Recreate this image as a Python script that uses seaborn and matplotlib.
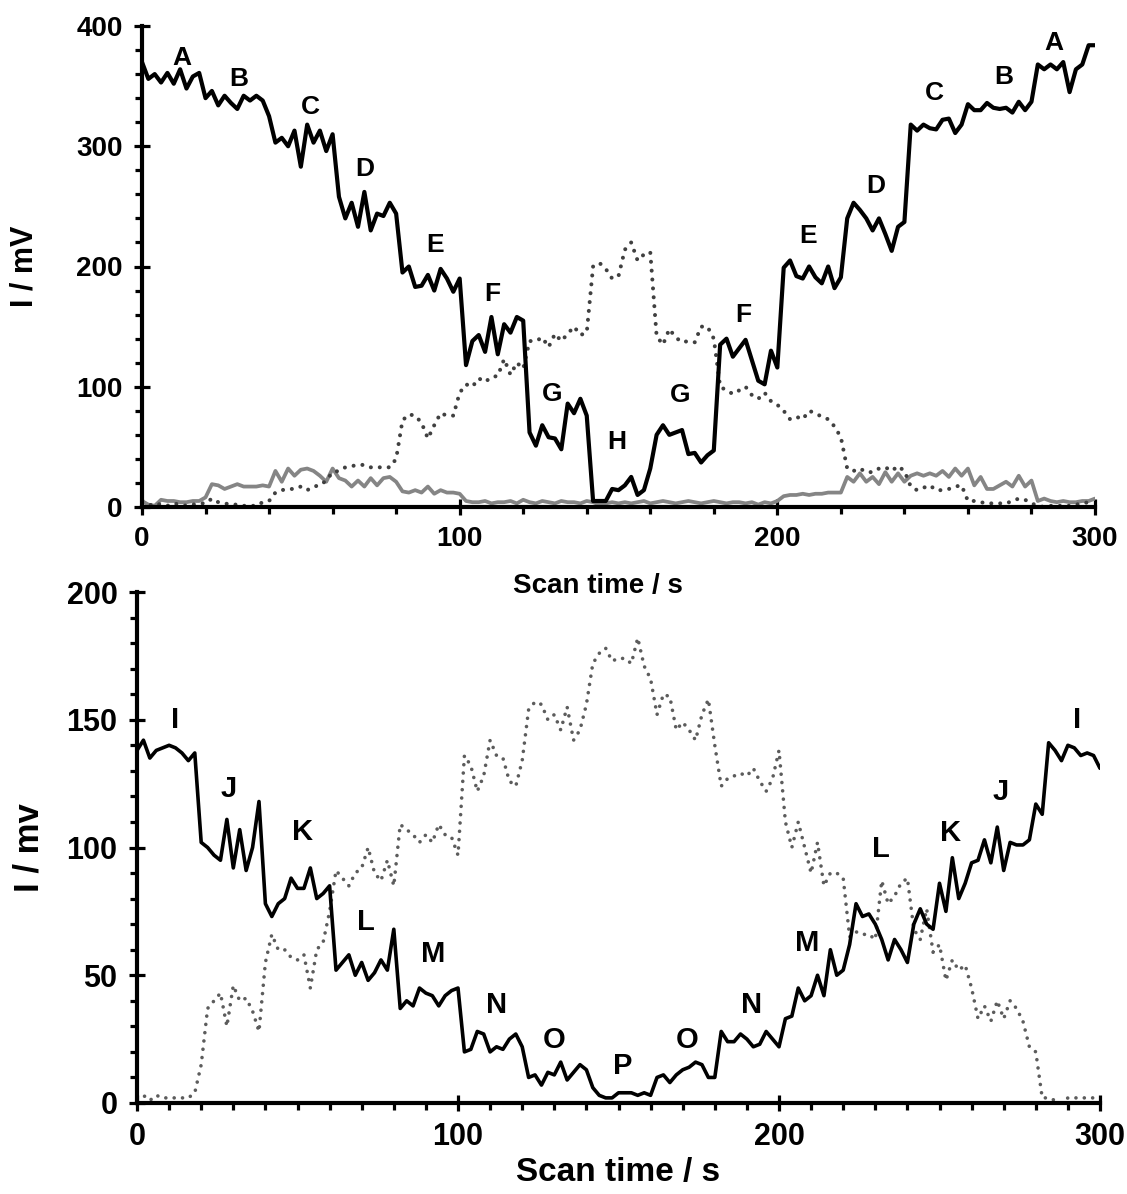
import numpy as np
import matplotlib
matplotlib.use("Agg")
import matplotlib.pyplot as plt
from matplotlib.ticker import MultipleLocator
import seaborn as sns

# scan time (s), one reading every 2 s
scan_time = np.arange(0, 301, 2)

# top panel (mV)
top_black = [370, 356, 360, 353, 361, 352, 364, 348, 358, 361,
             340, 346, 334, 342, 336, 331, 342, 338, 342, 338,
             325, 303, 307, 300, 313, 283, 318, 303, 313, 296,
             310, 258, 240, 253, 233, 262, 230, 244, 242, 253,
             244, 195, 200, 183, 184, 193, 180, 198, 190, 179,
             190, 118, 138, 143, 129, 158, 127, 152, 145, 158,
             155, 62, 51, 68, 58, 57, 48, 86, 78, 90,
             76, 5, 5, 5, 15, 14, 18, 25, 10, 14,
             32, 60, 68, 60, 62, 64, 44, 45, 37, 43,
             47, 135, 140, 125, 132, 139, 122, 105, 102, 130,
             116, 199, 205, 192, 190, 200, 191, 186, 200, 182,
             191, 240, 253, 247, 240, 230, 240, 227, 213, 233,
             237, 318, 313, 318, 315, 314, 322, 323, 311, 318,
             335, 330, 330, 336, 332, 331, 332, 328, 337, 330,
             337, 368, 364, 368, 364, 370, 345, 364, 368, 384,
             384]

top_dotted = [2, 1, 3, 2, 1, 3, 2, 1, 2, 3,
              3, 7, 4, 3, 2, 2, 1, 1, 1, 4,
              5, 12, 14, 15, 15, 17, 14, 17, 18, 22,
              29, 30, 33, 34, 35, 35, 33, 33, 33, 33,
              40, 72, 77, 76, 70, 57, 68, 78, 76, 76,
              95, 102, 100, 107, 104, 108, 109, 123, 110, 120,
              115, 138, 138, 141, 133, 144, 138, 144, 150, 143,
              145, 200, 203, 198, 190, 192, 214, 220, 205, 210,
              212, 142, 135, 148, 141, 137, 138, 137, 150, 150,
              140, 100, 97, 94, 97, 100, 93, 90, 95, 88,
              85, 80, 73, 75, 73, 80, 78, 75, 73, 67,
              58, 32, 30, 32, 29, 29, 32, 33, 30, 34,
              30, 17, 14, 16, 18, 14, 14, 15, 17, 18,
              5, 5, 4, 3, 3, 3, 3, 5, 7, 6,
              3, 1, 0, 1, 1, 1, 1, 2, 3, 4,
              4]

top_gray = [5, 2, 1, 6, 5, 5, 4, 4, 5, 5,
            8, 19, 18, 15, 17, 19, 17, 17, 17, 18,
            17, 30, 21, 32, 26, 31, 32, 30, 26, 21,
            32, 24, 22, 17, 22, 17, 24, 18, 24, 25,
            21, 13, 12, 14, 12, 17, 11, 14, 12, 12,
            11, 5, 4, 4, 5, 3, 4, 4, 5, 3,
            6, 4, 3, 5, 4, 3, 5, 4, 4, 3,
            5, 4, 2, 3, 4, 3, 4, 3, 4, 5,
            3, 4, 5, 4, 3, 4, 5, 4, 3, 4,
            5, 4, 3, 4, 4, 3, 4, 2, 4, 3,
            5, 9, 10, 10, 11, 10, 11, 11, 12, 12,
            12, 25, 21, 28, 21, 25, 19, 29, 21, 28,
            21, 26, 28, 26, 28, 26, 30, 25, 32, 26,
            32, 18, 25, 15, 15, 18, 21, 17, 26, 17,
            22, 5, 7, 5, 4, 5, 4, 4, 5, 5,
            7]

# bottom panel (mV)
bottom_black = [138, 142, 135, 138, 139, 140, 139, 137, 134, 137,
                102, 100, 97, 95, 111, 92, 107, 91, 100, 118,
                78, 73, 78, 80, 88, 84, 84, 92, 80, 82,
                85, 52, 55, 58, 50, 55, 48, 51, 56, 52,
                68, 37, 40, 38, 45, 43, 42, 38, 42, 44,
                45, 20, 21, 28, 27, 20, 22, 21, 25, 27,
                22, 10, 11, 7, 12, 11, 16, 9, 12, 15,
                13, 6, 3, 2, 2, 4, 4, 4, 3, 4,
                3, 10, 11, 8, 11, 13, 14, 16, 15, 10,
                10, 28, 24, 24, 27, 25, 22, 23, 28, 25,
                22, 33, 34, 45, 40, 42, 50, 42, 60, 50,
                52, 62, 78, 73, 74, 70, 64, 56, 64, 60,
                55, 70, 76, 70, 68, 86, 75, 96, 80, 86,
                94, 95, 103, 94, 108, 91, 102, 101, 101, 103,
                117, 113, 141, 138, 134, 140, 139, 136, 137, 136,
                131]

bottom_dotted = [2, 3, 1, 3, 2, 2, 2, 2, 2, 4,
                 15, 37, 40, 43, 30, 46, 40, 41, 36, 28,
                 55, 66, 60, 60, 57, 56, 58, 45, 60, 63,
                 75, 91, 88, 85, 90, 92, 100, 90, 87, 95,
                 85, 109, 107, 105, 102, 105, 102, 109, 105, 104,
                 97, 136, 132, 122, 128, 142, 136, 135, 126, 124,
                 134, 154, 157, 156, 150, 152, 146, 155, 142, 146,
                 156, 172, 176, 178, 173, 174, 174, 172, 182, 171,
                 166, 152, 160, 159, 146, 149, 146, 142, 152, 158,
                 140, 124, 127, 128, 129, 128, 131, 126, 122, 127,
                 138, 110, 100, 110, 100, 90, 102, 85, 90, 90,
                 88, 65, 67, 66, 66, 64, 87, 78, 81, 86,
                 88, 68, 64, 76, 59, 62, 48, 56, 52, 54,
                 45, 33, 38, 32, 40, 33, 40, 37, 32, 22,
                 20, 2, 2, 1, 0, 2, 2, 2, 2, 2,
                 3]

# step labels
top_letters = ["A", "B", "C", "D", "E", "F", "G", "H", "G", "F", "E", "D", "C", "B", "A"]
top_letter_t = [12.6, 30.6, 52.9, 70.2, 92.3, 110.2, 129.1, 149.6, 169.4, 189.3, 209.8, 230.9, 249.4, 271.2, 287.2]
top_letter_v = [373, 356, 333, 281, 218, 177, 94, 54, 93, 160, 225, 267, 344, 358, 386]

bottom_letters = ["I", "J", "K", "L", "M", "N", "O", "P", "O", "N", "M", "L", "K", "J", "I"]
bottom_letter_t = [12.0, 28.7, 51.7, 71.4, 92.3, 111.9, 129.9, 151.3, 171.4, 191.4, 208.9, 231.8, 253.6, 269.2, 292.8]
bottom_letter_v = [150, 123, 106, 71, 58.5, 38.5, 24.7, 14.5, 24.7, 38.5, 62.6, 99.4, 105.7, 121.7, 150]

sns.set_theme(style="ticks")
plt.rcParams["font.family"] = ["Liberation Sans", "DejaVu Sans"]
plt.rcParams["font.weight"] = "bold"
plt.rcParams.update({"text.color": "black", "axes.labelcolor": "black",
                     "xtick.color": "black", "ytick.color": "black",
                     "axes.edgecolor": "black"})

fig = plt.figure(figsize=(11.27, 11.94), dpi=100)
ax1 = fig.add_axes([142 / 1127, 687 / 1194, 953 / 1127, 481 / 1194])
ax2 = fig.add_axes([137 / 1127, 91 / 1194, 963 / 1127, 511 / 1194])
ax2.set_facecolor("none")

sns.lineplot(x=scan_time, y=top_gray, ax=ax1, color="#858585", lw=2.7)
sns.lineplot(x=scan_time, y=top_dotted, ax=ax1, color="#404040", lw=2.9,
             linestyle=(0, (0.01, 2.2)), dash_capstyle="round")
sns.lineplot(x=scan_time, y=top_black, ax=ax1, color="black", lw=3.0)

sns.lineplot(x=scan_time, y=bottom_dotted, ax=ax2, color="#5c5c5c", lw=2.6,
             linestyle=(0, (0.01, 2.3)), dash_capstyle="round")
sns.lineplot(x=scan_time, y=bottom_black, ax=ax2, color="black", lw=2.6)

for s, t, v in zip(top_letters, top_letter_t, top_letter_v):
    ax1.text(t, v, s, ha="center", va="center", fontsize=19, fontweight="bold")
for s, t, v in zip(bottom_letters, bottom_letter_t, bottom_letter_v):
    ax2.text(t, v, s, ha="center", va="center", fontsize=21, fontweight="bold")

ax1.set_xlim(0, 300)
ax1.set_ylim(0, 400)
ax1.xaxis.set_major_locator(MultipleLocator(100))
ax1.xaxis.set_minor_locator(MultipleLocator(20))
ax1.yaxis.set_major_locator(MultipleLocator(100))
ax1.yaxis.set_minor_locator(MultipleLocator(20))

ax2.set_xlim(0, 300)
ax2.set_ylim(0, 200)
ax2.xaxis.set_major_locator(MultipleLocator(100))
ax2.xaxis.set_minor_locator(MultipleLocator(10))
ax2.yaxis.set_major_locator(MultipleLocator(50))
ax2.yaxis.set_minor_locator(MultipleLocator(10))

for ax, size in ((ax1, 20), (ax2, 22)):
    sns.despine(ax=ax)
    for side in ("left", "bottom"):
        ax.spines[side].set_linewidth(3)
    ax.tick_params(which="major", direction="inout", length=12, width=2.3,
                   labelsize=size, pad=8)
    ax.tick_params(which="minor", direction="out", length=5, width=2.3)
    for lab in ax.get_xticklabels() + ax.get_yticklabels():
        lab.set_fontweight("bold")

ax1.set_xlabel("Scan time / s", fontsize=20, fontweight="bold")
ax1.xaxis.set_label_coords(0.4785, -0.137)
ax1.set_ylabel("I / mV", fontsize=22, fontweight="bold")
ax1.yaxis.set_label_coords(-0.108, 0.5)

ax2.set_xlabel("Scan time / s", fontsize=24, fontweight="bold")
ax2.xaxis.set_label_coords(0.5, -0.106)
ax2.set_ylabel("I / mv", fontsize=25, fontweight="bold")
ax2.yaxis.set_label_coords(-0.0955, 0.5)

fig.savefig("out.png", dpi=100)
